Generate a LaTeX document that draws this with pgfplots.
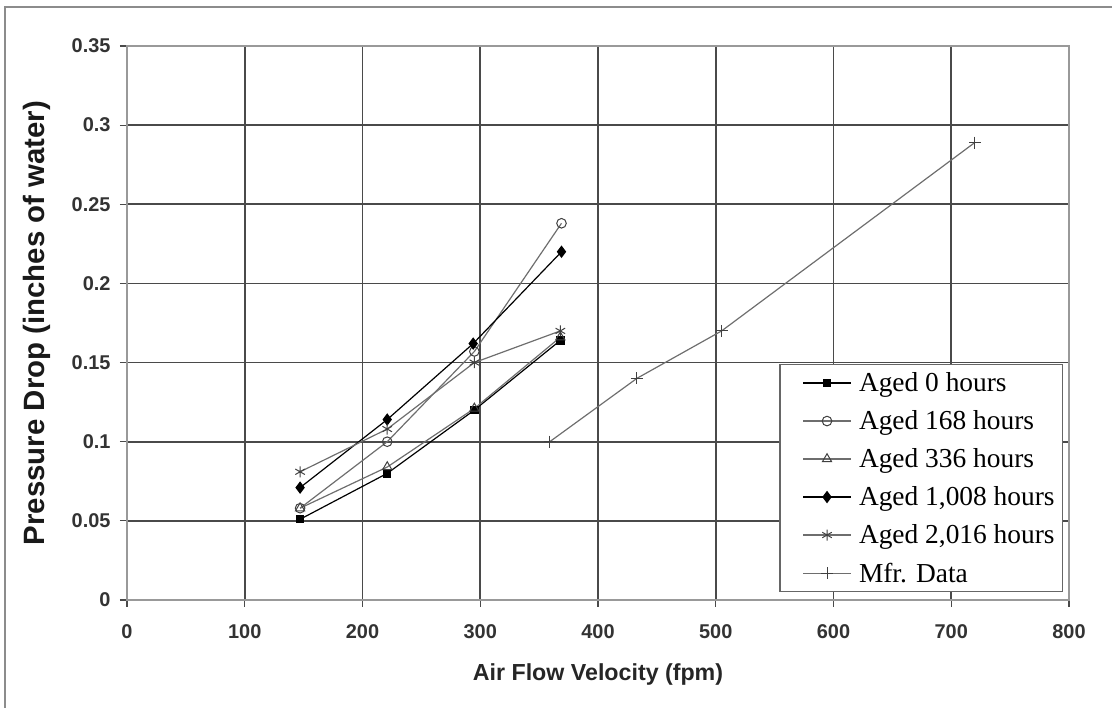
\documentclass[border=0pt]{standalone}
\usepackage{pgfplots}
\pgfplotsset{compat=1.18}
\usepackage{fontspec}
\setmainfont{Liberation Serif}
\setsansfont{Liberation Sans}
\definecolor{gridc}{HTML}{4A4A4A}
\definecolor{lgray}{HTML}{6E6E6E}
\definecolor{tickc}{HTML}{333333}
\begin{document}
\begin{tikzpicture}[x=1bp,y=1bp]
\useasboundingbox (-127,-108) rectangle (985,600);
\draw[line width=1.5bp, black!45] (-122,-120) -- (-122,593) -- (1000,593);
\begin{axis}[
  at={(0,0)}, anchor=south west,
  scale only axis, width=942bp, height=554bp,
  xmin=0, xmax=800, ymin=0, ymax=0.35,
  xtick={0,100,...,800},
  ytick={0,0.05,0.1,0.15,0.2,0.25,0.3,0.35},
  yticklabels={0,0.05,0.1,0.15,0.2,0.25,0.3,0.35},
  grid=major,
  major grid style={gridc, line width=1.6bp},
  axis line style={black!40, line width=1.2bp},
  tick pos=left,
  tick align=outside,
  major tick length=7bp,
  tick style={gridc, line width=1.2bp},
  x tick label style={font=\sffamily\bfseries\fontsize{20}{22}\selectfont, text=tickc, yshift=-14bp},
  y tick label style={font=\sffamily\bfseries\fontsize{20}{22}\selectfont, text=tickc, xshift=-6bp},
  /pgf/number format/assume math mode=true,
  xlabel={\sffamily\bfseries\fontsize{23.3}{25}\selectfont Air Flow Velocity (fpm)},
  ylabel={\sffamily\bfseries\fontsize{29.5}{31}\selectfont Pressure Drop (inches of water)},
  xlabel style={at={(axis description cs:0.5,-0.135)}, anchor=center, text=black!85},
  ylabel style={at={(axis description cs:-0.0955,0.5)}, anchor=center, text=black!90},
  legend style={at={(axis cs:795,0.005)}, anchor=south east,
    font=\fontsize{27.5}{30}\selectfont, draw=black!60, line width=1.1bp,
    row sep=13.5bp, inner xsep=6bp, inner ysep=6bp, cells={anchor=west}},
  legend image code/.code={
    \path[draw=none] (-17bp,0bp) -- (54bp,0bp);
    \draw[#1, mark repeat=2, mark phase=2] plot coordinates {(0bp,0bp) (24bp,0bp) (48bp,0bp)};},
  every axis plot/.append style={line width=1.2bp},
]
\addplot[black, mark=square*, mark size=3.6bp, mark options={solid}] coordinates {(147,0.051) (221,0.080) (295,0.120) (368,0.164)};
\addlegendentry{Aged 0 hours}
\addplot[lgray, mark=o, mark size=4.8bp, mark options={fill=white, draw=black!75, line width=1bp}] coordinates {(147,0.058) (221,0.100) (295,0.157) (369,0.238)};
\addlegendentry{Aged 168 hours}
\addplot[lgray, mark=triangle, mark size=5.3bp, mark options={fill=white, draw=black!75, line width=1bp}] coordinates {(147,0.058) (221,0.084) (295,0.121) (368,0.166)};
\addlegendentry{Aged 336 hours}
\addplot[black, mark=diamond*, mark size=5.3bp] coordinates {(147,0.071) (221,0.114) (294,0.162) (369,0.220)};
\addlegendentry{Aged 1,008 hours}
\addplot[lgray, mark=asterisk, mark size=5.5bp, mark options={draw=black!75, line width=1bp}] coordinates {(147,0.081) (221,0.108) (295,0.150) (368,0.170)};
\addlegendentry{Aged 2,016 hours}
\addplot[lgray, mark=+, mark size=6bp, mark options={draw=black!75, line width=1bp}] coordinates {(359,0.100) (433,0.140) (505,0.170) (720,0.289)};
\addlegendentry{Mfr. Data}
\end{axis}
\end{tikzpicture}
\end{document}
